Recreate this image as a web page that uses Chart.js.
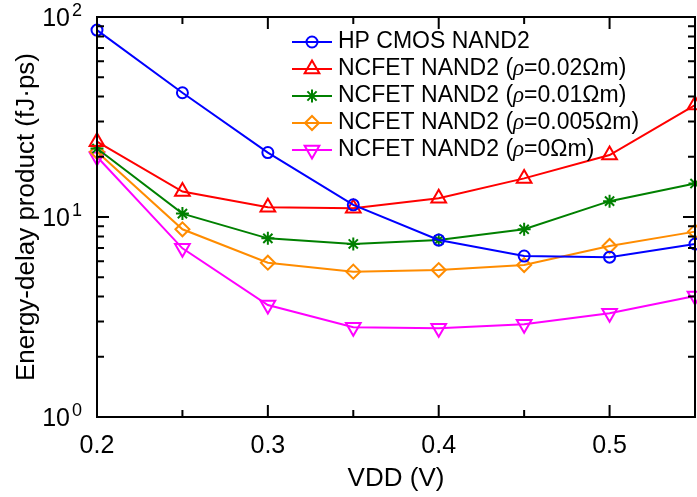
<!DOCTYPE html>
<html>
<head>
<meta charset="utf-8">
<script src="https://cdn.jsdelivr.net/npm/chart.js@4.4.1/dist/chart.umd.min.js"></script>
<style>
  html, body { margin: 0; padding: 0; background: #fff; }
  #wrap { width: 697px; height: 497px; }
</style>
</head>
<body>
<div id="wrap"><canvas id="edp-chart" width="697" height="497"></canvas></div>
<script>
// VDD sweep (V)
const vdd = [0.2, 0.25, 0.3, 0.35, 0.4, 0.45, 0.5, 0.55];

// energy-delay product, fJ.ps
const cmosEdp = [86, 41.8, 21.0, 11.5, 7.67, 6.38, 6.3, 7.33];
const ncfet002 = [23.8, 13.4, 11.2, 11.05, 12.4, 15.6, 20.4, 36.3];
const ncfet001 = [22.0, 10.4, 7.82, 7.33, 7.67, 8.68, 12.0, 14.7];
const ncfet0005 = [21.2, 8.68, 5.91, 5.33, 5.43, 5.75, 7.16, 8.45];
const ncfet0 = [20.0, 6.97, 3.63, 2.81, 2.78, 2.91, 3.30, 4.03];

const seriesLabels = [
  "HP CMOS NAND2",
  "NCFET NAND2 (ρ=0.02Ωm)",
  "NCFET NAND2 (ρ=0.01Ωm)",
  "NCFET NAND2 (ρ=0.005Ωm)",
  "NCFET NAND2 (ρ=0Ωm)",
];

const xMajorTicks = [0.2, 0.3, 0.4, 0.5];
const xMinorTicks = [0.25, 0.35, 0.45];
const yDecades = [0, 1, 2];

const FONT = "'Liberation Sans', Arial, Helvetica, sans-serif";

function series(label, data, color, style, radius, rotation) {
  return {
    label,
    data: vdd.map((x, i) => ({ x, y: data[i] })),
    borderColor: color,
    backgroundColor: color,
    borderWidth: 2,
    pointStyle: style,
    pointRadius: radius,
    pointHoverRadius: radius,
    pointRotation: rotation || 0,
    pointBorderColor: color,
    pointBackgroundColor: "rgba(0,0,0,0)",
    pointBorderWidth: 2,
    tension: 0,
    clip: false,
  };
}

// box, inward ticks on all four sides, y labels with superscripts
const framePlugin = {
  id: "frame",
  afterDatasetsDraw(chart) {
    const { ctx, chartArea: a, scales } = chart;
    const xs = scales.x, ys = scales.y;
    ctx.save();
    ctx.strokeStyle = "#000";
    ctx.lineWidth = 2;
    ctx.strokeRect(a.left, a.top, a.right - a.left, a.bottom - a.top);

    ctx.beginPath();
    const xt = (v, len) => {
      const px = xs.getPixelForValue(v);
      ctx.moveTo(px, a.bottom); ctx.lineTo(px, a.bottom - len);
      ctx.moveTo(px, a.top); ctx.lineTo(px, a.top + len);
    };
    xMajorTicks.forEach((v) => xt(v, 12));
    xMinorTicks.forEach((v) => xt(v, 7));
    const yt = (v, len) => {
      const py = ys.getPixelForValue(v);
      ctx.moveTo(a.left, py); ctx.lineTo(a.left + len, py);
      ctx.moveTo(a.right, py); ctx.lineTo(a.right - len, py);
    };
    yDecades.forEach((e, i) => {
      const base = Math.pow(10, e);
      yt(base, 12);
      if (i < yDecades.length - 1) {
        for (let m = 2; m <= 9; m++) yt(m * base, 7);
      }
    });
    ctx.stroke();

    ctx.fillStyle = "#000";
    yDecades.forEach((e) => {
      const py = ys.getPixelForValue(Math.pow(10, e));
      ctx.font = "25px " + FONT;
      ctx.textAlign = "right";
      ctx.textBaseline = "alphabetic";
      ctx.fillText("10", a.left - 27, py + 9);
      ctx.font = "18px " + FONT;
      ctx.textAlign = "left";
      ctx.fillText(String(e), a.left - 25, py - 1);
    });
    ctx.restore();
  },
  afterDraw(chart) {
    const { ctx, chartArea: a } = chart;
    ctx.save();
    chart.data.datasets.forEach((ds, i) => {
      const y = a.top + 25 + i * 27;
      const x0 = 292, x1 = 332;
      ctx.strokeStyle = ds.borderColor;
      ctx.fillStyle = "rgba(0,0,0,0)";
      ctx.lineWidth = 2;
      ctx.beginPath();
      ctx.moveTo(x0, y); ctx.lineTo(x1, y);
      ctx.stroke();
      Chart.helpers.drawPoint(ctx, {
        pointStyle: ds.pointStyle,
        radius: ds.pointRadius,
        rotation: ds.pointRotation,
        borderWidth: 2,
      }, (x0 + x1) / 2, y);

      // label, with rho in italic serif
      let tx = 338;
      ctx.fillStyle = "#000";
      ctx.textBaseline = "middle";
      ctx.textAlign = "left";
      const parts = ds.label.split("ρ");
      parts.forEach((p, k) => {
        if (k > 0) {
          ctx.font = "italic 23px 'Liberation Serif', 'DejaVu Serif', serif";
          ctx.fillText("ρ", tx, y);
          tx += ctx.measureText("ρ").width;
        }
        ctx.font = "23px " + FONT;
        ctx.fillText(p, tx, y);
        tx += ctx.measureText(p).width;
      });
    });
    ctx.restore();
  },
};

const colors = ["#0000ff", "#ff0000", "#008000", "#ff8c00", "#ff00ff"];

new Chart(document.getElementById("edp-chart"), {
  type: "line",
  data: {
    datasets: [
      series(seriesLabels[0], cmosEdp, colors[0], "circle", 5.5),
      series(seriesLabels[1], ncfet002, colors[1], "triangle", 8.5),
      series(seriesLabels[2], ncfet001, colors[2], "star", 6.5),
      series(seriesLabels[3], ncfet0005, colors[3], "rectRot", 7),
      series(seriesLabels[4], ncfet0, colors[4], "triangle", 8.5, 180),
    ],
  },
  options: {
    responsive: false,
    animation: false,
    devicePixelRatio: 1,
    layout: { autoPadding: false, padding: { top: 17, right: 2, left: 0, bottom: 0 } },
    plugins: { legend: { display: false }, tooltip: { enabled: false } },
    scales: {
      x: {
        type: "linear",
        min: 0.2,
        max: 0.55,
        afterFit: (s) => { s.height = 80; s.paddingLeft = 0; s.paddingRight = 0; },
        afterBuildTicks: (s) => { s.ticks = xMajorTicks.map((v) => ({ value: v })); },
        grid: { display: false },
        border: { display: false },
        ticks: {
          color: "#000",
          font: { family: FONT, size: 25 },
          padding: 6,
          maxRotation: 0,
          callback: (v) => String(v),
        },
        title: {
          display: true,
          text: "VDD (V)",
          color: "#000",
          font: { family: FONT, size: 26 },
          padding: { top: 0, bottom: 3 },
        },
      },
      y: {
        type: "logarithmic",
        min: 1,
        max: 100,
        afterFit: (s) => { s.width = 97; s.paddingTop = 0; s.paddingBottom = 0; },
        grid: { display: false },
        border: { display: false },
        ticks: { callback: () => "" },
        title: {
          display: true,
          text: "Energy-delay product (fJ·ps)",
          color: "#000",
          font: { family: FONT, size: 26 },
          padding: { top: 11, bottom: 0 },
        },
      },
    },
  },
  plugins: [framePlugin],
});
</script>
</body>
</html>
